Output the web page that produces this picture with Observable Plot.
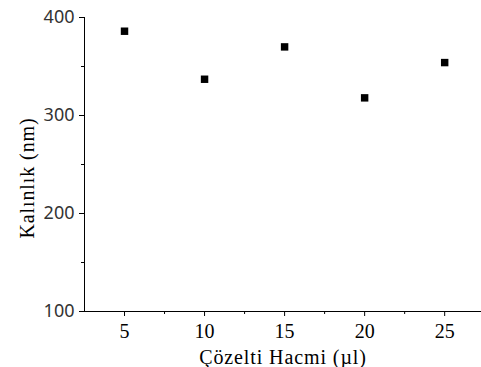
<!DOCTYPE html>
<html><head><meta charset="utf-8">
<script src="https://cdn.jsdelivr.net/npm/d3@7"></script>
<script src="https://cdn.jsdelivr.net/npm/@observablehq/plot@0.6"></script>
<style>body{margin:0;background:#fff}</style>
</head><body><div id="chart"></div>
<script>
const volumes = [5, 10, 15, 20, 25];
const thickness = [386, 337, 370, 318, 354];
const xTicks = [5, 10, 15, 20, 25];
const xMinorTicks = [7.5, 12.5, 17.5, 22.5];
const yTicks = [100, 200, 300, 400];
const yMinorTicks = [150, 250, 350];
const xLabel = "Çözelti Hacmi (µl)";
const yLabel = "Kalınlık (nm)";

const data = volumes.map((v, i) => ({v, t: thickness[i]}));
const serif = "'Liberation Serif', 'Times New Roman', serif";
const sans = "'Noto Sans', 'Open Sans', sans-serif";

const plot = Plot.plot({
  width: 481, height: 367,
  marginLeft: 84, marginRight: 0, marginTop: 17, marginBottom: 56,
  x: {domain: [2.5, 27.3]},
  y: {domain: [100, 400]},
  style: {fontFamily: serif, background: "#fff", color: "#000"},
  marks: [
    Plot.axisX({ticks: xTicks, tickSize: 5, tickPadding: 7, fontSize: 20, fontFamily: serif, label: null, tickFormat: d => String(d)}),
    Plot.axisX({ticks: xMinorTicks, tickSize: 3, text: null, label: null}),
    Plot.axisY({ticks: yTicks, tickSize: 5, tickPadding: 5, fontSize: 18, fontFamily: sans, fill: "#333", label: null, tickFormat: d => String(d)}),
    Plot.axisY({ticks: yMinorTicks, tickSize: 3, text: null, label: null}),
    Plot.ruleY([100], {stroke: "#000"}),
    Plot.ruleX([2.5], {stroke: "#000"}),
    Plot.dot(data, {x: "v", y: "t", symbol: "square", r: 4.2, fill: "#000", stroke: null}),
    Plot.text([xLabel], {frameAnchor: "bottom", lineAnchor: "top", dy: 38, fontSize: 20, fontFamily: serif, fill: "#000"}),
    Plot.text([yLabel], {frameAnchor: "left", lineAnchor: "top", textAnchor: "middle", rotate: -90, dx: -65, dy: 13.5, fontSize: 20, fontFamily: serif, fill: "#000"})
  ]
});
d3.select(plot).selectAll("text")
  .filter(function() { return this.textContent === xLabel || this.textContent === yLabel; })
  .attr("letter-spacing", "0.9px");
document.getElementById("chart").appendChild(plot);
</script>
</body></html>
